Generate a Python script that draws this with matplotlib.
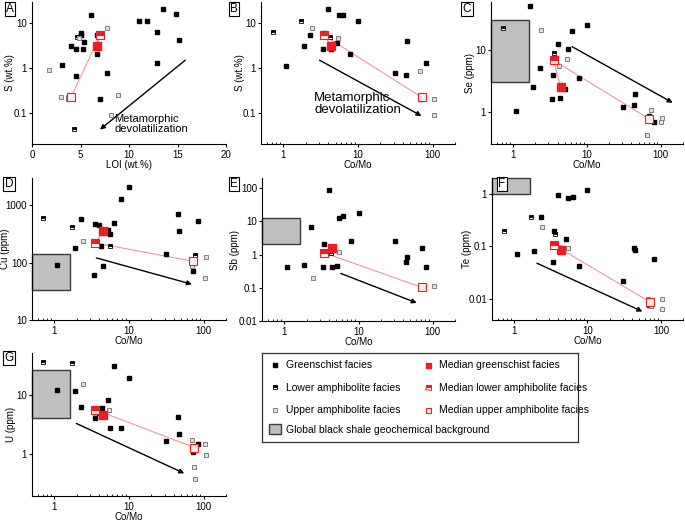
import numpy as np
import matplotlib
matplotlib.use("Agg")
import matplotlib.pyplot as plt
from matplotlib.patches import Rectangle
from matplotlib.lines import Line2D
from matplotlib.ticker import FixedLocator, FuncFormatter, LogLocator, NullLocator

plt.rcParams['font.family'] = ['Liberation Sans', 'DejaVu Sans']
plt.rcParams['font.size'] = 7

# ---- data ----
# A: S vs LOI
a_green_x = [6.08, 13.47, 14.8, 11.0, 11.9, 12.9, 15.2, 5.09, 5.1, 6.67, 5.36, 4.02, 4.5, 5.29, 6.67, 3.06, 12.9, 4.54, 7.77, 7.0]
a_green_y = [15.3, 21, 15.8, 11.4, 11.1, 6.5, 4.15, 6.0, 5.4, 5.6, 3.8, 3.06, 2.67, 2.7, 2.1, 1.15, 1.33, 0.68, 0.77, 0.2]
a_lower_x = [4.67, 4.33]
a_lower_y = [4.9, 0.044]
a_upper_x = [7.77, 4.88, 1.75, 2.99, 3.75, 3.68, 8.9, 8.14]
a_upper_y = [7.9, 4.7, 0.89, 0.22, 0.22, 0.2, 0.25, 0.091]
a_med_x = [6.67, 7.0, 4.02]
a_med_y = [3.1, 5.4, 0.22]

# B: S vs Co/Mo
b_green_x = [1.09, 2.3, 1.88, 3.98, 5.5, 6.25, 10, 3.5, 5.2, 3.37, 4.4, 7.8, 45, 31, 44, 82, 71]
b_green_y = [1.12, 5.4, 3.06, 21, 15, 15.5, 11, 6.0, 3.7, 2.6, 2.7, 2.1, 4.1, 0.76, 0.69, 1.3, 0.2]
b_lower_x = [0.72, 1.73, 4.2]
b_lower_y = [6.5, 11.4, 4.9]
b_upper_x = [2.4, 5.4, 68, 74, 105, 105]
b_upper_y = [7.9, 4.7, 0.88, 0.23, 0.2, 0.091]
b_med_x = [4.4, 3.48, 72]
b_med_y = [3.15, 5.4, 0.22]

# C: Se vs Co/Mo
c_green_x = [1.7, 9.9, 6.25, 4.0, 5.5, 2.3, 3.45, 7.7, 1.87, 5.1, 4.37, 3.34, 1.1, 44.5, 30.5, 42.8, 68.5, 80.7]
c_green_y = [52, 25, 20, 12.4, 10.2, 5.1, 3.9, 3.56, 2.54, 2.36, 1.7, 1.58, 1.03, 1.91, 1.19, 1.27, 0.85, 0.68]
c_lower_x = [0.72, 3.6]
c_lower_y = [23, 8.8]
c_upper_x = [2.4, 5.35, 4.2, 73, 74, 103, 102, 66]
c_upper_y = [21, 7.1, 5.5, 1.06, 0.75, 0.8, 0.69, 0.42]
c_med_x = [4.4, 3.52, 69]
c_med_y = [2.48, 6.8, 0.77]

# D: Cu vs Co/Mo
d_green_x = [1.09, 1.86, 2.29, 3.46, 3.96, 3.6, 4.17, 5.24, 5.5, 6.3, 7.9, 10, 3.39, 4.44, 31, 45, 46.5, 84, 72]
d_green_y = [90, 181, 571, 473, 455, 230, 196, 373, 317, 500, 1270, 2110, 61, 87, 144, 697, 363, 535, 73]
d_lower_x = [0.71, 1.7, 5.5, 77]
d_lower_y = [610, 414, 199, 135]
d_upper_x = [2.39, 107, 70, 106]
d_upper_y = [237, 126, 88, 53]
d_med_x = [4.49, 3.53, 72]
d_med_y = [353, 221, 106]

# E: Sb vs Co/Mo
e_green_x = [1.09, 1.86, 2.3, 3.44, 3.37, 3.6, 4.0, 4.36, 5.2, 5.5, 6.25, 10, 7.85, 31, 45, 44, 71, 82]
e_green_y = [0.42, 0.5, 6.7, 2.0, 0.42, 1.12, 85, 0.41, 0.45, 12.6, 14.5, 17.5, 2.6, 2.6, 0.83, 0.6, 1.59, 0.43]
e_lower_x = [4.2]
e_lower_y = [1.1]
e_upper_x = [2.4, 5.4, 68, 74, 105]
e_upper_y = [0.2, 1.2, 0.105, 0.105, 0.11]
e_med_x = [4.4, 3.48, 71]
e_med_y = [1.59, 1.12, 0.103]

# F: Te vs Co/Mo
f_green_x = [1.1, 1.87, 2.3, 3.45, 4.0, 5.5, 6.25, 9.9, 5.1, 4.2, 3.34, 7.7, 30, 42.8, 44.5, 80.7, 68.5]
f_green_y = [0.073, 0.083, 0.357, 0.198, 0.97, 0.83, 0.89, 1.16, 0.137, 0.093, 0.051, 0.043, 0.0216, 0.094, 0.084, 0.0575, 0.0078]
f_lower_x = [0.72, 1.7, 3.6]
f_lower_y = [0.195, 0.36, 0.17]
f_upper_x = [2.4, 5.35, 66, 102, 102, 73, 74]
f_upper_y = [0.23, 0.094, 0.01, 0.01, 0.0066, 0.0087, 0.0073]
f_med_x = [4.4, 3.52, 71]
f_med_y = [0.084, 0.106, 0.0088]

# G: U vs Co/Mo
g_green_x = [1.09, 1.86, 2.29, 6.3, 10, 5.2, 4.4, 3.39, 3.96, 3.46, 5.5, 7.9, 31, 45, 46.5, 84, 72]
g_green_y = [12.1, 11.4, 6.2, 30.8, 19.4, 8.0, 6.0, 5.1, 4.9, 4.1, 2.75, 2.75, 1.65, 4.2, 2.15, 1.47, 1.09]
g_lower_x = [0.71, 1.7, 3.53]
g_lower_y = [35.5, 33.7, 5.76]
g_upper_x = [2.39, 5.46, 70, 105, 108, 75, 77]
g_upper_y = [15.4, 5.6, 1.71, 1.47, 0.96, 0.61, 0.38]
g_med_x = [4.5, 3.53, 75]
g_med_y = [4.6, 5.6, 1.3]

# global black shale background ranges (y low, y high); x from axis to Co/Mo 1.63
bg_xmax = 1.63
bg_se = (3.0, 31)
bg_cu = (33, 144)
bg_sb = (2.1, 12.3)
bg_te = (1.0, 2.0)
bg_u = (4.1, 25.7)

RED = '#ee1d23'
W, H = 685, 521


def frac(l, t, r, b):
    return [l / W, 1 - b / H, (r - l) / W, (b - t) / H]


fig = plt.figure(figsize=(6.85, 5.21), dpi=100)


def panel(rect, letter, lpos, ylx, xlab, ylab, xlim, ylim, yticks, logx=True):
    ax = fig.add_axes(frac(*rect))
    if logx:
        ax.set_xscale('log')
    ax.set_yscale('log')
    ax.set_xlim(*xlim)
    ax.set_ylim(*ylim)
    for s in ['top', 'right']:
        ax.spines[s].set_visible(False)
    ax.yaxis.set_major_locator(FixedLocator(yticks))
    ax.yaxis.set_minor_locator(NullLocator())
    fmt = FuncFormatter(lambda v, p: '%g' % v)
    ax.yaxis.set_major_formatter(fmt)
    if logx:
        ax.xaxis.set_major_locator(FixedLocator([1, 10, 100]))
        ax.xaxis.set_major_formatter(fmt)
        ax.xaxis.set_minor_locator(LogLocator(base=10, subs=np.arange(2, 10)))
        ax.xaxis.set_minor_formatter(FuncFormatter(lambda v, p: ''))
    ax.tick_params(which='major', length=2.5, width=0.8, labelsize=7, pad=1.5)
    ax.tick_params(axis='y', which='major', pad=1)
    ax.tick_params(which='minor', length=1.5, width=0.6, direction='in')
    ax.set_xlabel(xlab, fontsize=7, labelpad=0.5)
    ax.set_ylabel(ylab, fontsize=7)
    ax.yaxis.set_label_coords((ylx - rect[0]) / (rect[2] - rect[0]), 0.5)
    fig.text(lpos[0] / W, 1 - lpos[1] / H, letter, fontsize=8.5, ha='center', va='center',
             bbox=dict(boxstyle='square,pad=0.12', fc='white', ec='black', lw=0.8))
    return ax


def scatter(ax, gx, gy, lx, ly, ux, uy, mx, my):
    ax.plot(mx, my, '-', color='#f08a8a', lw=0.7, zorder=3)
    ax.plot(gx, gy, 's', ms=3.2, color='black', mec='black', zorder=4)
    ax.plot(lx, ly, 's', ms=3.2, fillstyle='top', color='black', markerfacecoloralt='white',
            mec='black', mew=0.6, zorder=4)
    ax.plot(ux, uy, 's', ms=3.2, mfc='#e2e2e2', mec='#7f7f7f', mew=0.7, zorder=4)
    ax.plot(mx[0], my[0], 's', ms=6, color=RED, zorder=5)
    ax.plot(mx[1], my[1], 's', ms=6, fillstyle='top', color=RED, markerfacecoloralt='white',
            mec=RED, mew=0.8, zorder=5)
    ax.plot(mx[2], my[2], 's', ms=6, mfc='#fff0f0', mec=RED, mew=0.8, zorder=5)


def arrow(ax, start, end):
    ax.annotate('', xy=end, xytext=start,
                arrowprops=dict(arrowstyle='-|>', color='black', lw=1, mutation_scale=7,
                                shrinkA=0, shrinkB=0))


def background(ax, rng):
    x0 = ax.get_xlim()[0]
    ax.add_patch(Rectangle((x0, rng[0]), bg_xmax - x0, rng[1] - rng[0], fc='#c0bfbf',
                           ec='#3a3a3a', lw=1, zorder=1, clip_on=False))


COMO = 'Co/Mo'
XL = (0.5, 200)

axA = panel((32, 2, 226, 144), 'A', (10, 9), 15.5, 'LOI (wt.%)', 'S (wt.%)', (0, 20), (0.02, 30), [0.1, 1, 10], logx=False)
axA.set_xticks([0, 5, 10, 15, 20])
scatter(axA, a_green_x, a_green_y, a_lower_x, a_lower_y, a_upper_x, a_upper_y, a_med_x, a_med_y)
arrow(axA, (15.8, 1.5), (7.0, 0.042))
axA.text(8.5, 0.055, 'Metamorphic\ndevolatilization', fontsize=8, ha='left', va='center', linespacing=1.0)

axB = panel((261, 2, 455, 144), 'B', (234, 9), 245, COMO, 'S (wt.%)', XL, (0.02, 30), [0.1, 1, 10])
scatter(axB, b_green_x, b_green_y, b_lower_x, b_lower_y, b_upper_x, b_upper_y, b_med_x, b_med_y)
arrow(axB, (3.04, 1.5), (71, 0.085))
axB.text(2.58, 0.16, 'Metamorphic\ndevolatilization', fontsize=9.5, ha='left', va='center', linespacing=1.0)

axC = panel((491, 2, 683, 144), 'C', (467, 9), 475, COMO, 'Se (ppm)', XL, (0.3, 60), [1, 10])
background(axC, bg_se)
scatter(axC, c_green_x, c_green_y, c_lower_x, c_lower_y, c_upper_x, c_upper_y, c_med_x, c_med_y)
arrow(axC, (6.3, 11.3), (145, 1.4))

axD = panel((32, 178, 226, 320), 'D', (9, 184), 10.5, COMO, 'Cu (ppm)', XL, (10, 3000), [10, 100, 1000])
background(axD, bg_cu)
scatter(axD, d_green_x, d_green_y, d_lower_x, d_lower_y, d_upper_x, d_upper_y, d_med_x, d_med_y)
arrow(axD, (3.65, 121), (70, 42))

axE = panel((262, 178, 455, 321), 'E', (234, 184), 240, COMO, 'Sb (ppm)', XL, (0.01, 200), [0.01, 0.1, 1, 10, 100])
background(axE, bg_sb)
scatter(axE, e_green_x, e_green_y, e_lower_x, e_lower_y, e_upper_x, e_upper_y, e_med_x, e_med_y)
arrow(axE, (5.76, 0.27), (61, 0.035))

axF = panel((492, 178, 683, 320), 'F', (502, 184), 472, COMO, 'Te (ppm)', XL, (0.004, 2), [0.01, 0.1, 1])
background(axF, bg_te)
scatter(axF, f_green_x, f_green_y, f_lower_x, f_lower_y, f_upper_x, f_upper_y, f_med_x, f_med_y)
arrow(axF, (2.05, 0.048), (56, 0.0058))

axG = panel((32, 353, 226, 496), 'G', (9, 358), 16, COMO, 'U (ppm)', XL, (0.2, 50), [1, 10])
background(axG, bg_u)
scatter(axG, g_green_x, g_green_y, g_lower_x, g_lower_y, g_upper_x, g_upper_y, g_med_x, g_med_y)
arrow(axG, (1.96, 3.3), (55, 0.48))

# ---- legend ----
lax = fig.add_axes(frac(262, 353, 578, 442))
lax.set_xticks([])
lax.set_yticks([])
for s in lax.spines.values():
    s.set_linewidth(0.9)
    s.set_color('#333333')

h_green = Line2D([], [], ls='none', marker='s', ms=3.2, color='black')
h_lower = Line2D([], [], ls='none', marker='s', ms=3.2, fillstyle='top', color='black',
                 markerfacecoloralt='white', mec='black', mew=0.6)
h_upper = Line2D([], [], ls='none', marker='s', ms=3.2, mfc='#e2e2e2', mec='#7f7f7f', mew=0.7)
h_mgreen = Line2D([], [], ls='none', marker='s', ms=3.6, color=RED)
h_mlower = Line2D([], [], ls='none', marker='s', ms=3.6, fillstyle='top', color=RED,
                  markerfacecoloralt='white', mec=RED, mew=0.7)
h_mupper = Line2D([], [], ls='none', marker='s', ms=3.6, mfc='white', mec=RED, mew=0.8)
leg1 = lax.legend([h_green, h_lower, h_upper, h_mgreen, h_mlower, h_mupper],
                  ['Greenschist facies', 'Lower amphibolite facies', 'Upper amphibolite facies',
                   'Median greenschist facies', 'Median lower amphibolite facies',
                   'Median upper amphibolite facies'],
                  ncol=2, loc='upper left', bbox_to_anchor=(0.0, 1.0), frameon=False,
                  fontsize=7.5, handlelength=1.0, handletextpad=0.6, columnspacing=2.1,
                  labelspacing=1.2, borderaxespad=0.3)
lax.add_artist(leg1)
h_bg = Rectangle((0, 0), 1, 1, fc='#c0bfbf', ec='#3a3a3a', lw=1)
lax.legend([h_bg], ['Global black shale geochemical background'], loc='lower left',
           frameon=False, fontsize=7.5, handlelength=1.1, handleheight=1.1,
           handletextpad=0.5, borderaxespad=0.3)

fig.savefig('out.png', dpi=100)
